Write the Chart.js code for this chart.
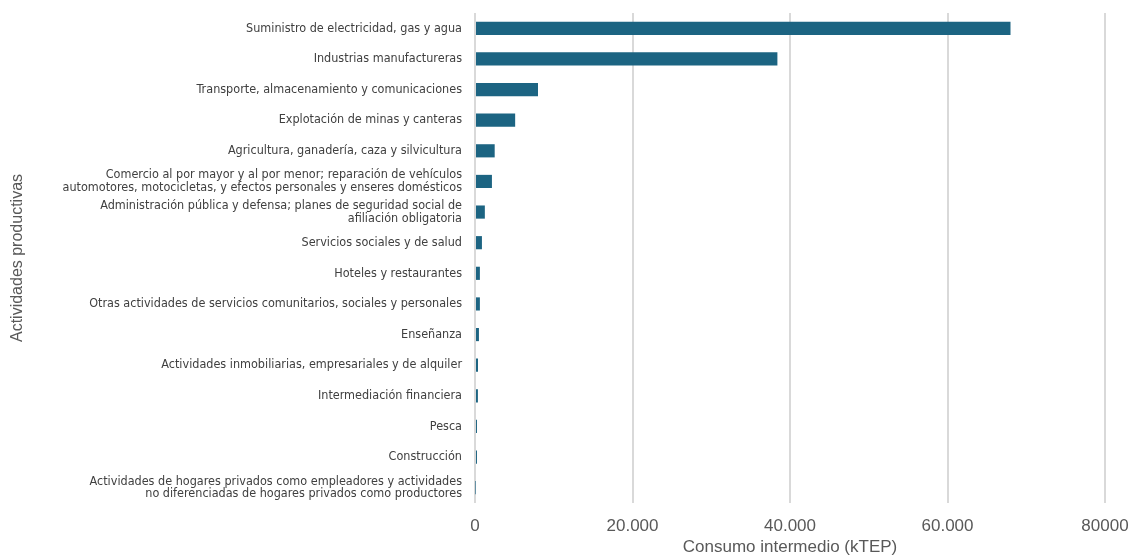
<!DOCTYPE html>
<html>
<head>
<meta charset="utf-8">
<script src="https://cdn.jsdelivr.net/npm/chart.js@4.4.1/dist/chart.umd.min.js"></script>
<style>
  html, body { margin: 0; padding: 0; background: #ffffff; }
  #wrap { width: 1132px; height: 558px; }
</style>
</head>
<body>
<div id="wrap"><canvas id="c" width="1132" height="558"></canvas></div>
<script>
const categories = [
  "Suministro de electricidad, gas y agua",
  "Industrias manufactureras",
  "Transporte, almacenamiento y comunicaciones",
  "Explotación de minas y canteras",
  "Agricultura, ganadería, caza y silvicultura",
  ["Comercio al por mayor y al por menor; reparación de vehículos", "automotores, motocicletas, y efectos personales y enseres domésticos"],
  ["Administración pública y defensa; planes de seguridad social de", "afiliación obligatoria"],
  "Servicios sociales y de salud",
  "Hoteles y restaurantes",
  "Otras actividades de servicios comunitarios, sociales y personales",
  "Enseñanza",
  "Actividades inmobiliarias, empresariales y de alquiler",
  "Intermediación financiera",
  "Pesca",
  "Construcción",
  ["Actividades de hogares privados como empleadores y actividades", "no diferenciadas de hogares privados como productores"]
];

const consumo = [68000, 38400, 8000, 5100, 2500, 2150, 1250, 880, 620, 620, 500, 380, 370, 250, 250, 50];

const xTickValues = [0, 20000, 40000, 60000, 80000];
const xTickLabels = ["0", "20.000", "40.000", "60.000", "80000"];

const xTitle = "Consumo intermedio (kTEP)";
const yTitle = "Actividades productivas";

const narrowFont = "'Liberation Sans Narrow', 'DejaVu Sans Condensed', 'Arial Narrow', sans-serif";
const mainFont = "'Liberation Sans', Arial, Helvetica, sans-serif";

new Chart(document.getElementById('c'), {
  type: 'bar',
  data: {
    labels: categories,
    datasets: [{
      data: consumo,
      backgroundColor: '#1c6482',
      borderWidth: 0,
      barPercentage: 0.43,
      categoryPercentage: 1.0
    }]
  },
  options: {
    indexAxis: 'y',
    responsive: false,
    animation: false,
    devicePixelRatio: 1,
    layout: { padding: { top: 13, right: 27, left: 0, bottom: 0 } },
    plugins: {
      legend: { display: false },
      tooltip: { enabled: false }
    },
    scales: {
      x: {
        type: 'linear',
        min: 0,
        max: 80000,
        afterBuildTicks: (scale) => { scale.ticks = xTickValues.map(v => ({ value: v })); },
        afterFit: (scale) => { scale.height = 55; scale.paddingLeft = 0; scale.paddingRight = 0; },
        ticks: {
          callback: (v) => { const i = xTickValues.indexOf(v); return i >= 0 ? xTickLabels[i] : ''; },
          font: { family: mainFont, size: 17 },
          color: '#595959',
          padding: 13,
          maxRotation: 0
        },
        grid: { color: '#d9d9d9', lineWidth: 2, drawTicks: false },
        border: { display: false },
        title: {
          display: true,
          text: xTitle,
          font: { family: mainFont, size: 17 },
          color: '#595959',
          padding: { top: 0, bottom: 0 }
        }
      },
      y: {
        afterFit: (scale) => { scale.width = 475; scale.paddingTop = 0; scale.paddingBottom = 0; },
        ticks: {
          font: { family: narrowFont, size: 12.5, lineHeight: 1.0 },
          color: '#404040',
          padding: 13,
          autoSkip: false
        },
        grid: { display: false, drawTicks: false },
        border: { display: false },
        title: {
          display: true,
          text: yTitle,
          font: { family: mainFont, size: 16 },
          color: '#595959',
          padding: { top: 8, bottom: 0 }
        }
      }
    }
  }
});
</script>
</body>
</html>
